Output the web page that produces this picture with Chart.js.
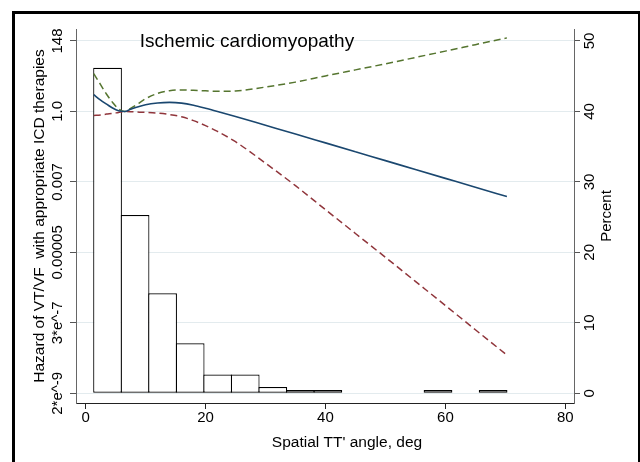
<!DOCTYPE html>
<html>
<head>
<meta charset="utf-8">
<script src="https://cdn.jsdelivr.net/npm/chart.js@4.4.0/dist/chart.umd.min.js"></script>
<style>
  html, body { margin: 0; padding: 0; background: #fff; }
  #wrap { position: relative; width: 640px; height: 462px; overflow: hidden; }
  #frame { position: absolute; left: 12px; top: 11px; width: 623px; height: 520px; border: 3px solid #000; }
  canvas { position: absolute; left: 0; top: 0; }
</style>
</head>
<body>
<div id="wrap">
  <div id="frame"></div>
  <canvas id="chart" width="640" height="462"></canvas>
</div>
<script>
// histogram of the spatial TT' angle (percent of patients), 15 bins
const binCenters = [3.66, 8.25, 12.84, 17.44, 22.03, 26.62, 31.22, 35.81, 40.40, 45.00, 49.59, 54.18, 58.77, 63.37, 67.96];
const binPercent = [46.2, 25.3, 14.2, 7.1, 2.65, 2.65, 0.9, 0.45, 0.45, null, null, null, 0.45, null, 0.45];

// spline fit of the hazard, natural log scale
const angle     = [1.36, 2.5, 3.5, 4.5, 5.5, 6.5, 7.5, 8.5, 10, 12, 14, 16, 18, 20, 22, 25, 30, 35, 40, 45, 50, 55, 60, 65, 70.26];
const logHazard = [1.19, 0.80, 0.52, 0.24, 0.05, 0.0, 0.15, 0.30, 0.48, 0.60, 0.64, 0.59, 0.44, 0.23, 0.0, -0.36, -0.98, -1.60, -2.23, -2.86, -3.49, -4.12, -4.75, -5.38, -6.04];
const logUpper  = [2.68, 1.90, 1.22, 0.64, 0.18, 0.0, 0.22, 0.48, 0.90, 1.28, 1.47, 1.53, 1.50, 1.46, 1.43, 1.45, 1.73, 2.08, 2.52, 2.95, 3.38, 3.83, 4.28, 4.74, 5.22];
const logLower  = [-0.28, -0.25, -0.19, -0.14, -0.07, -0.01, -0.02, -0.04, -0.07, -0.12, -0.22, -0.38, -0.65, -1.01, -1.42, -2.15, -3.67, -5.27, -6.97, -8.66, -10.35, -12.06, -13.77, -15.49, -17.29];

const hazardTicks  = [-20, -15, -10, -5, 0, 5];
const hazardLabels = ['2*e^-9', '3*e^-7', '0.00005', '0.007', '1.0', '148'];
const percentTicks = [0, 10, 20, 30, 40, 50];
const angleTicks   = [0, 20, 40, 60, 80];

const FONT = 'Liberation Sans, Arial, sans-serif';

const toPoints = (xs, ys) => xs.map((x, i) => ({ x: x, y: ys[i] }));

// rotated tick labels and axis titles
const textPlugin = {
  id: 'stataText',
  afterDraw(chart) {
    const ctx = chart.ctx;
    const yL = chart.scales.yL, yR = chart.scales.yR;
    ctx.save();
    ctx.fillStyle = '#000';
    ctx.textAlign = 'center';
    ctx.textBaseline = 'middle';

    ctx.font = '15px ' + FONT;
    yL.ticks.forEach((t, i) => {
      ctx.save();
      ctx.translate(57.5, yL.getPixelForValue(t.value));
      ctx.rotate(-Math.PI / 2);
      ctx.fillText(hazardLabels[i], 0, 0);
      ctx.restore();
    });
    yR.ticks.forEach(t => {
      ctx.save();
      ctx.translate(590, yR.getPixelForValue(t.value));
      ctx.rotate(-Math.PI / 2);
      ctx.fillText(String(t.value), 0, 0);
      ctx.restore();
    });

    ctx.font = '15.5px ' + FONT;
    const midY = (chart.chartArea.top + chart.chartArea.bottom) / 2;
    ctx.save();
    ctx.translate(39.5, midY);
    ctx.rotate(-Math.PI / 2);
    ctx.fillText('Hazard of VT/VF  with appropriate ICD therapies', 0, 0);
    ctx.restore();

    ctx.font = '15px ' + FONT;
    ctx.save();
    ctx.translate(607, midY);
    ctx.rotate(-Math.PI / 2);
    ctx.fillText('Percent', 0, 0);
    ctx.restore();

    ctx.font = '15.5px ' + FONT;
    ctx.fillText("Spatial TT' angle, deg", 347, 443);

    ctx.font = '19px ' + FONT;
    ctx.textBaseline = 'alphabetic';
    ctx.fillText('Ischemic cardiomyopathy', 247, 46.5);
    ctx.restore();
  }
};

new Chart(document.getElementById('chart'), {
  data: {
    datasets: [
      {
        type: 'line', label: 'Upper', yAxisID: 'yL', order: 1,
        data: toPoints(angle, logUpper),
        borderColor: '#55752f', borderWidth: 1.5, borderDash: [7, 4],
        pointRadius: 0, cubicInterpolationMode: 'monotone', fill: false
      },
      {
        type: 'line', label: 'Lower', yAxisID: 'yL', order: 1,
        data: toPoints(angle, logLower),
        borderColor: '#90353b', borderWidth: 1.5, borderDash: [7, 4],
        pointRadius: 0, cubicInterpolationMode: 'monotone', fill: false
      },
      {
        type: 'line', label: 'Hazard', yAxisID: 'yL', order: 0,
        data: toPoints(angle, logHazard),
        borderColor: '#1a476f', borderWidth: 1.6,
        pointRadius: 0, cubicInterpolationMode: 'monotone', fill: false
      },
      {
        type: 'bar', label: 'Percent', yAxisID: 'yR', order: 10,
        data: toPoints(binCenters, binPercent),
        backgroundColor: '#fff', borderColor: '#000', borderWidth: 1.2,
        borderSkipped: false, categoryPercentage: 1, barPercentage: 1.044
      }
    ]
  },
  options: {
    responsive: false,
    animation: false,
    layout: { padding: { top: 29, left: 0, right: 0, bottom: 0 } },
    plugins: { legend: { display: false }, tooltip: { enabled: false } },
    scales: {
      x: {
        type: 'linear', position: 'bottom', min: -1.6, max: 81.45, offset: false,
        afterBuildTicks: s => { s.ticks = angleTicks.map(v => ({ value: v })); },
        afterFit: s => { s.height = 59; },
        grid: { offset: false, drawOnChartArea: false, tickLength: 6, tickColor: '#222' },
        border: { color: '#222', width: 1 },
        ticks: { font: { family: FONT, size: 15 }, color: '#000', padding: 0, maxRotation: 0 }
      },
      yL: {
        type: 'linear', position: 'left', min: -20.69, max: 5.85,
        afterBuildTicks: s => { s.ticks = hazardTicks.map(v => ({ value: v })); },
        afterFit: s => { s.width = 76; },
        grid: { color: '#e3ebee', lineWidth: 1, tickLength: 6, tickColor: '#555' },
        border: { color: '#666', width: 1 },
        ticks: { display: false }
      },
      yR: {
        type: 'linear', position: 'right', min: -1.38, max: 51.7,
        afterBuildTicks: s => { s.ticks = percentTicks.map(v => ({ value: v })); },
        afterFit: s => { s.width = 66; },
        grid: { drawOnChartArea: false, tickLength: 6, tickColor: '#555' },
        border: { color: '#666', width: 1 },
        ticks: { display: false }
      }
    }
  },
  plugins: [textPlugin]
});
</script>
</body>
</html>
